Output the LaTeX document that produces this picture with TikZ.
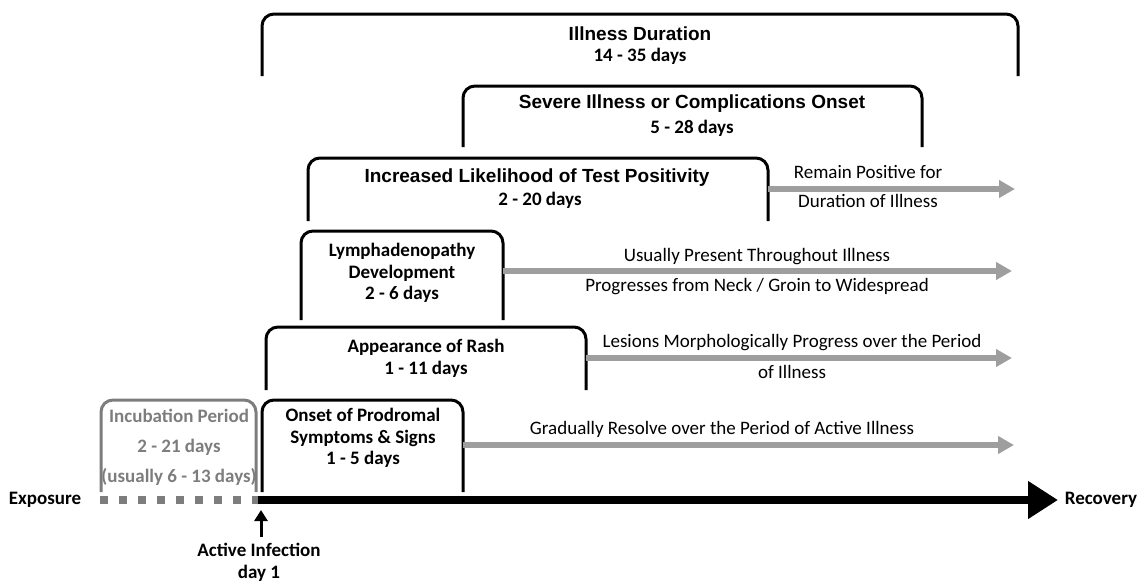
\documentclass[tikz,border=0pt]{standalone}
\usepackage{fontspec}
\setmainfont{Carlito}
\newfontfamily\arialf{Liberation Sans}
\usetikzlibrary{arrows.meta}
\definecolor{incgray}{RGB}{125,125,125}
\definecolor{arrgray}{RGB}{158,158,158}
\tikzset{
  bracket/.style={line width=3pt, rounded corners=12pt},
  graybracket/.style={bracket, draw=incgray},
  grayarrow/.style={arrgray, line width=5.5pt, -{Triangle[length=16pt,width=17pt]}},
  btext/.style={font=\bfseries\fontsize{19}{21.8}\selectfont, align=center, inner sep=0pt},
  atext/.style={font=\arialf\bfseries\fontsize{19}{22}\selectfont, align=center, inner sep=0pt},
  rtext/.style={font=\fontsize{19}{20}\selectfont, align=center, inner sep=0pt},
}
\begin{document}
\begin{tikzpicture}[x=1pt,y=-1pt]
\useasboundingbox (0,0) rectangle (1146,584);
% brackets
\draw[bracket] (262,76) -- (262,14) -- (1018,14) -- (1018,76);
\draw[bracket] (463,147) -- (463,86) -- (922,86) -- (922,147);
\draw[bracket] (308,221) -- (308,158) -- (768,158) -- (768,221);
\draw[bracket] (301,320) -- (301,231) -- (503,231) -- (503,320);
\draw[bracket] (266,390) -- (266,327) -- (586,327) -- (586,390);
\draw[bracket] (262,492) -- (262,400) -- (463,400) -- (463,492);
\draw[graybracket] (101,492) -- (101,400) -- (256,400) -- (256,492);
% coordinates
\coordinate (tp) at (768,189);
\coordinate (tpe) at (1015,189);
\coordinate (ly) at (503,271);
\coordinate (lye) at (1012,271);
\coordinate (ra) at (586,358);
\coordinate (rae) at (1012,358);
\coordinate (pr) at (463,445);
\coordinate (pre) at (1014,445);
\coordinate (ds) at (100,500);
\coordinate (ai) at (258,500);
\coordinate (axe) at (1058,500);
\coordinate (aib) at (261,537);
\coordinate (ait) at (261,510);
% arrows
\draw[grayarrow] (tp) -- (tpe);
\draw[grayarrow] (ly) -- (lye);
\draw[grayarrow] (ra) -- (rae);
\draw[grayarrow] (pr) -- (pre);
\draw[incgray, line width=8pt, dash pattern=on 8pt off 11pt] (ds) -- (ai);
\draw[black, line width=8pt, -{Triangle[length=30pt,width=36pt]}] (ai) -- (axe);
\draw[line width=3pt, -{Triangle[length=11pt,width=13pt]}] (aib) -- (ait);
% texts
\node[atext] (t1) at (640,34) {Illness Duration};
\node[btext] (t1b) at (640,56) {14 - 35 days};
\node[atext] (t2) at (692,104) {Severe Illness or Complications Onset};
\node[btext] (t2b) at (692,128) {5 - 28 days};
\node[atext] (t3) at (537,178) {Increased Likelihood of Test Positivity};
\node[btext] (t3b) at (540,200) {2 - 20 days};
\node[btext] (t4) at (402,273) {Lymphadenopathy\\Development\\2 - 6 days};
\node[btext] (t5) at (426,358) {Appearance of Rash\\1 - 11 days};
\node[btext] (t6) at (363,438) {Onset of Prodromal\\Symptoms \& Signs\\1 - 5 days};
\node[btext, text=incgray, font=\bfseries\fontsize{19}{30}\selectfont] (t7) at (179,447) {Incubation Period\\2 - 21 days\\(usually 6 - 13 days)};
\node[rtext] (r1) at (868,172) {Remain Positive for};
\node[rtext] (r1b) at (868,201) {Duration of Illness};
\node[rtext] (r2) at (757,257) {Usually Present Throughout Illness};
\node[rtext] (r2b) at (757,287) {Progresses from Neck / Groin to Widespread};
\node[rtext] (r3) at (792,343) {Lesions Morphologically Progress over the Period};
\node[rtext] (r3b) at (792,372) {of Illness};
\node[rtext] (r4) at (722,429) {Gradually Resolve over the Period of Active Illness};
\node[btext] (ex) at (45,500) {Exposure};
\node[btext] (rc) at (1101,500) {Recovery};
\node[btext] (act) at (259,562) {Active Infection\\day 1};
\end{tikzpicture}
\end{document}
